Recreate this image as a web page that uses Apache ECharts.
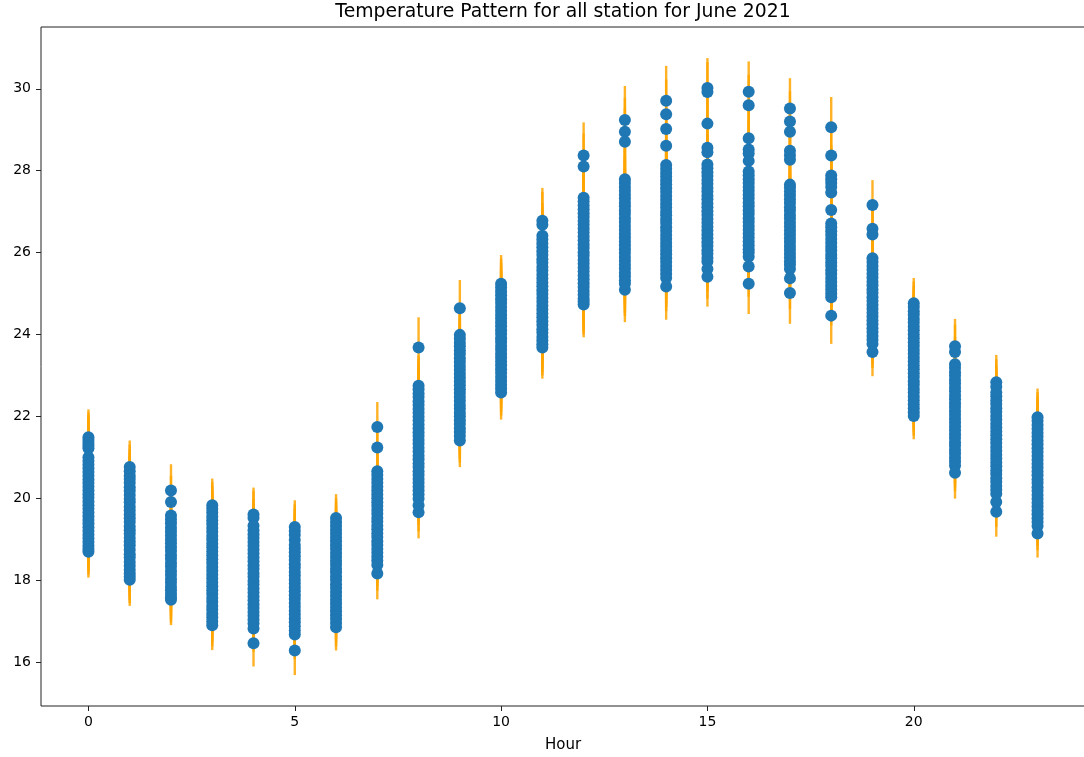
<!DOCTYPE html>
<html>
<head>
<meta charset="utf-8">
<title>Temperature Pattern for all station for June 2021</title>
<script src="https://cdn.jsdelivr.net/npm/echarts@6/dist/echarts.min.js"></script>
<style>
  html, body { margin: 0; padding: 0; background: #fff; }
  #chart { width: 1084px; height: 757px; }
</style>
</head>
<body>
<div id="chart"></div>
<script>
// Hourly mean temperatures per station (°C), June 2021
const t00 = [21.49, 21.42, 21.35, 21.28, 21.22, 21.00, 20.91, 20.82, 20.73, 20.64, 20.55, 20.46, 20.37, 20.28, 20.19, 20.10, 20.01, 19.92, 19.83, 19.74, 19.65, 19.56, 19.47, 19.38, 19.29, 19.20, 19.11, 19.02, 18.93, 18.84, 18.76, 18.69];
const t01 = [20.76, 20.66, 20.55, 20.47, 20.38, 20.27, 20.18, 20.08, 19.98, 19.90, 19.79, 19.70, 19.60, 19.51, 19.42, 19.31, 19.22, 19.13, 19.03, 18.94, 18.85, 18.74, 18.63, 18.55, 18.44, 18.35, 18.25, 18.16, 18.08, 18.01];
const t02 = [20.19, 19.91, 19.58, 19.48, 19.39, 19.28, 19.19, 19.09, 18.99, 18.90, 18.80, 18.71, 18.61, 18.52, 18.42, 18.33, 18.22, 18.13, 18.03, 17.94, 17.84, 17.75, 17.66, 17.58, 17.52];
const t03 = [19.83, 19.74, 19.65, 19.55, 19.46, 19.37, 19.27, 19.18, 19.08, 18.99, 18.89, 18.80, 18.70, 18.61, 18.51, 18.42, 18.32, 18.23, 18.13, 18.04, 17.94, 17.85, 17.75, 17.66, 17.56, 17.47, 17.37, 17.28, 17.18, 17.09, 16.99, 16.90];
const t04 = [19.60, 19.52, 19.33, 19.22, 19.12, 19.03, 18.93, 18.84, 18.74, 18.65, 18.55, 18.46, 18.36, 18.27, 18.17, 18.08, 17.98, 17.89, 17.79, 17.70, 17.60, 17.51, 17.41, 17.32, 17.22, 17.13, 17.03, 16.94, 16.82, 16.46];
const t05 = [19.30, 19.20, 19.10, 18.98, 18.86, 18.77, 18.68, 18.58, 18.49, 18.39, 18.30, 18.20, 18.11, 18.01, 17.92, 17.82, 17.73, 17.63, 17.54, 17.44, 17.35, 17.25, 17.16, 17.06, 16.97, 16.87, 16.77, 16.67, 16.28];
const t06 = [19.52, 19.42, 19.33, 19.23, 19.14, 19.04, 18.95, 18.85, 18.76, 18.66, 18.57, 18.47, 18.38, 18.28, 18.19, 18.09, 18.00, 17.90, 17.81, 17.71, 17.62, 17.52, 17.43, 17.33, 17.24, 17.14, 17.05, 16.95, 16.85];
const t07 = [21.74, 21.24, 20.66, 20.57, 20.47, 20.38, 20.28, 20.19, 20.09, 20.00, 19.90, 19.81, 19.71, 19.62, 19.52, 19.43, 19.33, 19.24, 19.14, 19.05, 18.95, 18.86, 18.76, 18.67, 18.57, 18.48, 18.37, 18.16];
const t08 = [23.68, 22.75, 22.66, 22.56, 22.47, 22.37, 22.28, 22.18, 22.09, 21.99, 21.90, 21.80, 21.71, 21.61, 21.52, 21.42, 21.33, 21.23, 21.14, 21.04, 20.95, 20.85, 20.76, 20.66, 20.57, 20.47, 20.38, 20.28, 20.19, 20.09, 19.99, 19.83, 19.66];
const t09 = [24.64, 23.99, 23.90, 23.80, 23.71, 23.61, 23.52, 23.42, 23.33, 23.23, 23.14, 23.04, 22.95, 22.85, 22.76, 22.66, 22.57, 22.47, 22.38, 22.28, 22.19, 22.09, 22.00, 21.90, 21.81, 21.71, 21.62, 21.52, 21.41];
const t10 = [25.24, 25.15, 25.05, 24.96, 24.86, 24.77, 24.67, 24.58, 24.48, 24.39, 24.29, 24.20, 24.10, 24.01, 23.91, 23.82, 23.72, 23.63, 23.53, 23.44, 23.34, 23.25, 23.15, 23.06, 22.96, 22.87, 22.77, 22.68, 22.58];
const t11 = [26.78, 26.68, 26.41, 26.32, 26.22, 26.13, 26.03, 25.94, 25.84, 25.75, 25.65, 25.56, 25.46, 25.37, 25.27, 25.18, 25.08, 24.99, 24.89, 24.80, 24.70, 24.61, 24.51, 24.42, 24.32, 24.23, 24.13, 24.04, 23.94, 23.85, 23.76, 23.68];
const t12 = [28.37, 28.10, 27.34, 27.25, 27.15, 27.06, 26.96, 26.87, 26.77, 26.68, 26.58, 26.49, 26.39, 26.30, 26.20, 26.11, 26.01, 25.92, 25.82, 25.73, 25.63, 25.54, 25.44, 25.35, 25.25, 25.16, 25.06, 24.97, 24.87, 24.80, 24.73];
const t13 = [29.24, 28.95, 28.71, 27.79, 27.70, 27.60, 27.51, 27.41, 27.32, 27.22, 27.13, 27.03, 26.94, 26.84, 26.75, 26.65, 26.56, 26.46, 26.37, 26.27, 26.18, 26.08, 25.99, 25.89, 25.80, 25.70, 25.61, 25.51, 25.42, 25.32, 25.24, 25.09];
const t14 = [29.71, 29.38, 29.02, 28.61, 28.14, 28.05, 27.95, 27.86, 27.76, 27.67, 27.57, 27.48, 27.38, 27.29, 27.19, 27.10, 27.00, 26.91, 26.81, 26.72, 26.62, 26.53, 26.43, 26.34, 26.24, 26.15, 26.05, 25.96, 25.86, 25.77, 25.67, 25.58, 25.48, 25.38, 25.17];
const t15 = [30.02, 29.92, 29.15, 28.56, 28.45, 28.15, 28.06, 27.96, 27.87, 27.77, 27.68, 27.58, 27.49, 27.39, 27.30, 27.20, 27.11, 27.01, 26.92, 26.82, 26.73, 26.63, 26.54, 26.44, 26.35, 26.25, 26.16, 26.06, 25.97, 25.87, 25.78, 25.60, 25.41];
const t16 = [29.93, 29.60, 28.79, 28.52, 28.42, 28.24, 27.98, 27.89, 27.79, 27.70, 27.60, 27.51, 27.41, 27.32, 27.22, 27.13, 27.03, 26.94, 26.84, 26.75, 26.65, 26.56, 26.46, 26.37, 26.27, 26.18, 26.08, 26.00, 25.90, 25.66, 25.24];
const t17 = [29.52, 29.20, 28.95, 28.49, 28.38, 28.27, 27.66, 27.59, 27.49, 27.40, 27.30, 27.21, 27.11, 27.02, 26.92, 26.83, 26.73, 26.64, 26.54, 26.45, 26.35, 26.26, 26.16, 26.07, 25.97, 25.88, 25.78, 25.70, 25.60, 25.37, 25.01];
const t18 = [29.06, 28.37, 27.88, 27.79, 27.70, 27.60, 27.47, 27.04, 26.71, 26.62, 26.52, 26.43, 26.33, 26.24, 26.14, 26.05, 25.95, 25.86, 25.76, 25.67, 25.57, 25.48, 25.38, 25.29, 25.19, 25.10, 25.00, 24.91, 24.46];
const t19 = [27.16, 26.58, 26.44, 25.86, 25.77, 25.67, 25.58, 25.48, 25.39, 25.29, 25.20, 25.10, 25.01, 24.91, 24.82, 24.72, 24.63, 24.53, 24.44, 24.34, 24.25, 24.15, 24.06, 23.96, 23.87, 23.77, 23.57];
const t20 = [24.76, 24.67, 24.57, 24.48, 24.38, 24.29, 24.19, 24.10, 24.00, 23.91, 23.81, 23.72, 23.62, 23.53, 23.43, 23.34, 23.24, 23.15, 23.05, 22.96, 22.86, 22.77, 22.67, 22.58, 22.48, 22.39, 22.29, 22.20, 22.10, 22.01];
const t21 = [23.71, 23.57, 23.27, 23.18, 23.08, 22.99, 22.89, 22.80, 22.70, 22.61, 22.51, 22.42, 22.32, 22.23, 22.13, 22.04, 21.94, 21.85, 21.75, 21.66, 21.56, 21.47, 21.37, 21.28, 21.18, 21.09, 20.99, 20.90, 20.80, 20.62];
const t22 = [22.83, 22.72, 22.58, 22.49, 22.39, 22.30, 22.20, 22.11, 22.01, 21.92, 21.82, 21.73, 21.63, 21.54, 21.44, 21.35, 21.25, 21.16, 21.06, 20.97, 20.87, 20.78, 20.68, 20.59, 20.49, 20.40, 20.30, 20.21, 20.11, 19.91, 19.67];
const t23 = [21.98, 21.89, 21.79, 21.70, 21.60, 21.51, 21.41, 21.32, 21.22, 21.13, 21.03, 20.94, 20.84, 20.75, 20.65, 20.56, 20.46, 20.37, 20.27, 20.18, 20.08, 19.99, 19.89, 19.80, 19.70, 19.61, 19.51, 19.42, 19.32, 19.14];

// Error bar extent below / above each reading, per hour
const errLow  = [0.63, 0.64, 0.62, 0.61, 0.57, 0.60, 0.57, 0.63, 0.64, 0.65, 0.66, 0.76, 0.80, 0.79, 0.81, 0.73, 0.74, 0.75, 0.69, 0.59, 0.57, 0.63, 0.61, 0.59];
const errHigh = [0.68, 0.65, 0.64, 0.65, 0.66, 0.65, 0.58, 0.61, 0.74, 0.69, 0.70, 0.80, 0.81, 0.83, 0.85, 0.73, 0.74, 0.74, 0.74, 0.61, 0.62, 0.67, 0.67, 0.70];

// Axis ticks
const xTicks = [0, 5, 10, 15, 20];
const yTicks = [16, 18, 20, 22, 24, 26, 28, 30];

const byHour = [t00, t01, t02, t03, t04, t05, t06, t07, t08, t09, t10, t11,
                t12, t13, t14, t15, t16, t17, t18, t19, t20, t21, t22, t23];

const points = [];
const bars = [];
byHour.forEach((vals, hour) => {
  vals.forEach(v => {
    points.push([hour, v]);
    bars.push([hour, v, errLow[hour], errHigh[hour]]);
  });
});

const font = 'DejaVu Sans';
const chart = echarts.init(document.getElementById('chart'), null, { renderer: 'canvas' });

chart.setOption({
  animation: false,
  backgroundColor: '#ffffff',
  title: {
    text: 'Temperature Pattern for all station for June 2021',
    left: 563,
    top: 3,
    textAlign: 'center',
    padding: 0,
    textStyle: { fontFamily: font, fontSize: 18.8, fontWeight: 'normal', color: '#000' }
  },
  grid: {
    left: 41, top: 27, width: 1044, height: 679,
    outerBoundsMode: 'none',
    containLabel: false,
    show: true, borderColor: '#222', borderWidth: 1, backgroundColor: 'transparent'
  },
  xAxis: {
    type: 'value',
    min: -1.15,
    max: 24.15,
    name: 'Hour',
    nameLocation: 'middle',
    nameGap: 32,
    nameTextStyle: { fontFamily: font, fontSize: 15, color: '#000' },
    axisLine: { show: false, onZero: false },
    splitLine: { show: false },
    axisTick: { show: true, length: 5, customValues: xTicks, lineStyle: { color: '#222', width: 1 } },
    axisLabel: { customValues: xTicks, margin: 9, fontFamily: font, fontSize: 14, color: '#000' }
  },
  yAxis: {
    type: 'value',
    min: 14.925,
    max: 31.51,
    axisLine: { show: false, onZero: false },
    splitLine: { show: false },
    axisTick: { show: true, length: 5, customValues: yTicks, lineStyle: { color: '#222', width: 1 } },
    axisLabel: { customValues: yTicks, margin: 10, fontFamily: font, fontSize: 14, color: '#000' }
  },
  series: [
    {
      name: 'error',
      type: 'custom',
      z: 1,
      data: bars,
      renderItem: function (params, api) {
        const h = api.value(0);
        const v = api.value(1);
        const p1 = api.coord([h, v - api.value(2)]);
        const p2 = api.coord([h, v + api.value(3)]);
        return {
          type: 'line',
          shape: { x1: p1[0], y1: p1[1], x2: p2[0], y2: p2[1] },
          style: { stroke: '#FFA500', lineWidth: 2.4, opacity: 0.85 }
        };
      }
    },
    {
      name: 'temperature',
      type: 'scatter',
      z: 2,
      symbol: 'circle',
      symbolSize: 12,
      itemStyle: { color: '#1f77b4', opacity: 1 },
      data: points
    }
  ]
});
</script>
</body>
</html>
